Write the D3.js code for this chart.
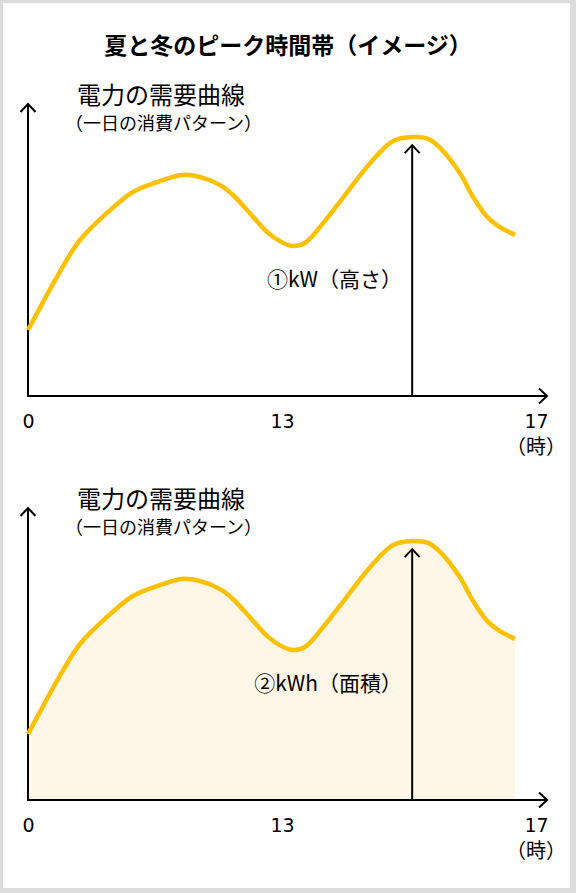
<!DOCTYPE html>
<html>
<head>
<meta charset="utf-8">
<script src="https://cdn.jsdelivr.net/npm/d3@7"></script>
<style>
  body { margin: 0; background: #fff; }
  svg { display: block; }
  text { font-family: "Noto Sans CJK JP", "Noto Sans", sans-serif; fill: #000; }
</style>
</head>
<body>
<div id="chart"></div>
<script>
// hour of day (schematic) and demand level (relative units)
var hours = [0, 0.77, 1.48, 2.66, 4.04, 5.37, 6.6, 7.88, 8.8, 9.83, 10.49, 11.52, 12.23, 13.02,
             13.17, 13.36, 13.65, 13.91, 14.39, 14.75, 15.05, 15.3, 15.49, 15.8, 16.01, 16.23, 16.43, 16.67];
var demand = [22, 31.3, 39.7, 52, 61, 68, 71.3, 73.7, 73, 70.3, 67, 59.7, 54.7, 51,
              50, 51, 57.7, 64.7, 77.7, 85, 86.3, 85.7, 82.7, 74.3, 66.3, 59.7, 56.3, 53.7];

var tickHours = [0, 13, 17];
var tickLabels = ["0", "13", "17"];
var unitLabel = "（時）";

var title = "夏と冬のピーク時間帯（イメージ）";
var curveTitle = "電力の需要曲線";
var curveSub = "（一日の消費パターン）";
var panelLabels = ["①kW（高さ）", "②kWh（面積）"];

var width = 576, height = 893;
var panelStep = 404;

var svg = d3.select("#chart")
    .append("svg")
    .attr("width", width)
    .attr("height", height);

// grey frame round the picture
svg.append("rect").attr("width", width).attr("height", height).attr("fill", "#dcdcdc");
svg.append("rect").attr("x", 3).attr("y", 3).attr("width", 567).attr("height", 885).attr("fill", "#fff");

// open arrow head
svg.append("defs").append("marker")
    .attr("id", "head")
    .attr("markerUnits", "userSpaceOnUse")
    .attr("viewBox", "-10 -9 12 18")
    .attr("markerWidth", 12)
    .attr("markerHeight", 18)
    .attr("refX", 0)
    .attr("refY", 0)
    .attr("orient", "auto")
    .append("path")
    .attr("d", "M-8,-7.5L0,0L-8,7.5")
    .attr("fill", "none")
    .attr("stroke", "#000")
    .attr("stroke-width", 2);

svg.append("text")
    .attr("x", 288)
    .attr("y", 54)
    .attr("text-anchor", "middle")
    .style("font-size", "23px")
    .style("font-weight", "bold")
    .text(title);

var x = d3.scaleLinear().domain(tickHours).range([28, 282, 536]);
var y = d3.scaleLinear().domain([0, 100]).range([396, 96]);

var data = hours.map(function (h, i) { return { h: h, v: demand[i] }; });
var peak = data[d3.maxIndex(data, function (d) { return d.v; })];

var line = d3.line()
    .x(function (d) { return x(d.h); })
    .y(function (d) { return y(d.v); })
    .curve(d3.curveCatmullRom.alpha(0.5));

var area = d3.area()
    .x(function (d) { return x(d.h); })
    .y0(y(0))
    .y1(function (d) { return y(d.v); })
    .curve(d3.curveCatmullRom.alpha(0.5));

[0, 1].forEach(function (p) {
    var g = svg.append("g").attr("transform", "translate(0," + p * panelStep + ")");

    if (p === 1) {
        g.append("path")
            .datum(data)
            .attr("d", area)
            .attr("fill", "#fef7e7");
    }

    // y axis
    g.append("line")
        .attr("x1", x(0)).attr("x2", x(0))
        .attr("y1", y(0)).attr("y2", y(0) - 292)
        .attr("stroke", "#000").attr("stroke-width", 2)
        .attr("marker-end", "url(#head)");

    // x axis
    g.append("line")
        .attr("x1", x(0) - 1).attr("x2", x(17) + 11)
        .attr("y1", y(0)).attr("y2", y(0))
        .attr("stroke", "#000").attr("stroke-width", 2)
        .attr("marker-end", "url(#head)");

    var ax = g.append("g")
        .attr("transform", "translate(0," + y(0) + ")")
        .call(d3.axisBottom(x)
            .tickValues(tickHours)
            .tickFormat(function (d, i) { return tickLabels[i]; })
            .tickSize(0)
            .tickPadding(19));
    ax.select(".domain").remove();
    ax.selectAll("text")
        .attr("fill", "#000")
        .style("font-family", "'DejaVu Sans', sans-serif")
        .style("font-size", "19px");

    g.append("text")
        .attr("x", x(17))
        .attr("y", y(0) + 58)
        .attr("text-anchor", "middle")
        .style("font-size", "20px")
        .text(unitLabel);

    // demand curve
    g.append("path")
        .datum(data)
        .attr("d", line)
        .attr("fill", "none")
        .attr("stroke", "#ffc000")
        .attr("stroke-width", 4.5)
        .attr("stroke-linejoin", "round");

    // peak arrow
    g.append("line")
        .attr("x1", x(peak.h)).attr("x2", x(peak.h))
        .attr("y1", y(0)).attr("y2", y(peak.v) + 8)
        .attr("stroke", "#000").attr("stroke-width", 2)
        .attr("marker-end", "url(#head)");

    g.append("text")
        .attr("x", 77)
        .attr("y", 104)
        .style("font-size", "24px")
        .text(curveTitle);

    g.append("text")
        .attr("x", 65)
        .attr("y", 130)
        .style("font-size", "18px")
        .text(curveSub);

    g.append("text")
        .attr("x", 402)
        .attr("y", 287)
        .attr("text-anchor", "end")
        .style("font-size", "21px")
        .text(panelLabels[p]);
});
</script>
</body>
</html>
